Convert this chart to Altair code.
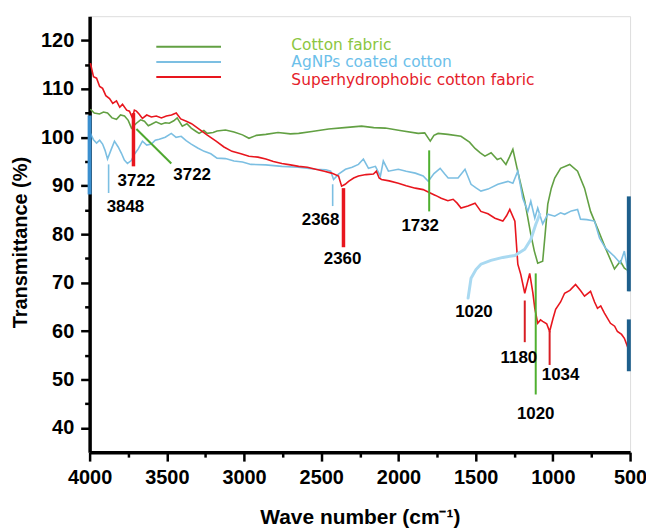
import altair as alt
import pandas as pd

# ---------------- data ----------------
series_names = ["Cotton fabric", "AgNPs coated cotton", "Superhydrophobic cotton fabric"]

cotton_wn = [3995, 3970, 3936, 3910, 3884, 3855, 3826, 3800, 3774, 3750, 3729, 3697, 3670, 3645,
             3620, 3600, 3570, 3536, 3510, 3484, 3455, 3433, 3400, 3370, 3342, 3310, 3291, 3260,
             3239, 3200, 3175, 3120, 3065, 3010, 2968, 2920, 2859, 2780, 2700, 2646, 2560, 2452,
             2350, 2239, 2160, 2085, 1990, 1872, 1830, 1794, 1770, 1743, 1680, 1595, 1540, 1504,
             1470, 1440, 1400, 1360, 1337, 1304, 1280, 1259, 1227, 1182, 1143, 1120, 1098, 1066,
             1050, 1033, 1010, 988, 950, 891, 840, 795, 756, 711, 659, 601, 563, 537, 505]
cotton_t = [105.8, 105.0, 104.8, 105.2, 105.0, 104.0, 103.7, 104.6, 104.4, 103.5, 101.9, 102.9, 103.6, 103.3,
            102.4, 102.7, 103.2, 102.7, 103.0, 102.9, 103.4, 104.0, 102.3, 102.8, 101.9, 101.2, 100.8, 101.4,
            100.8, 101.0, 101.3, 101.5, 101.1, 100.5, 99.8, 100.4, 100.6, 101.0, 100.7, 100.8, 101.2, 101.7,
            102.0, 102.3, 102.0, 101.9, 101.4, 100.8, 100.9, 99.2, 100.4, 100.8, 100.6, 100.2, 99.0, 97.7,
            96.8, 96.1, 96.8, 95.4, 95.7, 94.4, 96.0, 97.5, 92.9, 86.8, 80.0, 76.5, 74.0, 74.4,
            80.0, 86.2, 89.5, 91.6, 93.6, 94.4, 93.0, 89.5, 84.7, 81.2, 77.1, 72.8, 74.4, 73.0, 72.3]

agnp_wn = [3995, 3975, 3955, 3935, 3916, 3900, 3884, 3860, 3839, 3815, 3794, 3775, 3755, 3730,
           3710, 3685, 3658, 3630, 3600, 3575, 3549, 3510, 3471, 3440, 3407, 3375, 3342, 3300,
           3258, 3215, 3175, 3120, 3065, 3010, 2955, 2860, 2755, 2650, 2536, 2470, 2439, 2420,
           2388, 2343, 2300, 2259, 2227, 2194, 2149, 2117, 2098, 2065, 2001, 1950, 1891, 1840,
           1807, 1770, 1730, 1700, 1678, 1614, 1569, 1530, 1500, 1466, 1420, 1356, 1291, 1259,
           1227, 1195, 1162, 1143, 1117, 1098, 1066, 1033, 988, 950, 924, 880, 840, 821,
           780, 730, 698, 659, 601, 563, 537, 518, 505]
agnp_t = [100.8, 99.5, 98.8, 99.4, 98.6, 97.3, 95.5, 97.5, 99.2, 98.0, 96.7, 95.3, 94.6, 95.2,
          96.5, 97.6, 99.2, 98.4, 98.6, 99.4, 99.6, 100.0, 100.8, 100.0, 100.2, 99.3, 98.6, 97.8,
          97.1, 96.6, 95.7, 95.6, 95.1, 94.9, 94.4, 94.3, 94.0, 93.8, 93.4, 93.3, 93.0, 91.3,
          92.4, 93.4, 93.8, 94.4, 95.5, 93.6, 94.0, 92.0, 95.1, 93.0, 93.4, 93.0, 92.6, 92.0,
          90.9, 92.5, 93.6, 92.4, 91.6, 91.6, 93.4, 90.3, 89.6, 88.9, 89.3, 90.3, 90.9, 90.5,
          93.0, 87.4, 84.7, 86.8, 83.3, 85.4, 82.1, 84.1, 83.7, 84.4, 84.1, 84.8, 85.1, 83.1,
          83.0, 82.7, 79.2, 77.1, 75.4, 74.0, 76.5, 73.0, 68.2]

shcf_wn = [3995, 3975, 3955, 3935, 3916, 3895, 3871, 3850, 3826, 3805, 3787, 3760, 3742, 3723,
           3710, 3697, 3680, 3658, 3630, 3600, 3568, 3535, 3503, 3470, 3439, 3410, 3374, 3340,
           3291, 3240, 3181, 3130, 3078, 3020, 2968, 2910, 2859, 2810, 2755, 2700, 2646, 2590,
           2536, 2480, 2433, 2388, 2368, 2345, 2323, 2290, 2259, 2210, 2162, 2143, 2125, 2110,
           2060, 2001, 1950, 1891, 1840, 1794, 1760, 1723, 1680, 1646, 1620, 1595, 1550, 1504,
           1466, 1420, 1375, 1324, 1300, 1279, 1246, 1227, 1208, 1182, 1165, 1150, 1130, 1117,
           1098, 1080, 1066, 1040, 1021, 1000, 982, 950, 924, 890, 853, 820, 795, 756,
           730, 711, 690, 666, 627, 600, 582, 555, 537, 505]
shcf_t = [115.3, 112.5, 112.2, 110.5, 110.1, 108.6, 108.0, 107.0, 107.5, 106.2, 106.8, 105.6, 105.4, 104.0,
          105.6, 105.4, 104.8, 103.9, 104.6, 104.2, 104.4, 104.0, 104.4, 104.6, 105.0, 103.8, 103.3, 102.8,
          101.7, 100.5, 99.2, 98.0, 97.1, 96.6, 96.1, 95.9, 95.5, 95.0, 94.6, 94.3, 94.0, 93.8,
          93.4, 93.0, 92.6, 92.0, 89.9, 90.3, 90.9, 91.6, 92.0, 92.3, 92.4, 93.0, 91.6, 91.3,
          91.0, 90.5, 90.0, 89.5, 89.2, 88.5, 88.0, 87.4, 86.9, 87.2, 86.4, 85.4, 85.8, 86.4,
          84.7, 84.2, 83.3, 82.7, 83.8, 85.1, 82.7, 73.8, 71.7, 67.8, 70.0, 71.9, 68.0, 64.7,
          61.6, 62.3, 62.0, 61.5, 59.9, 62.5, 64.5, 66.0, 67.8, 68.4, 69.6, 68.3, 67.2, 68.2,
          66.0, 64.7, 65.2, 63.7, 61.6, 61.0, 59.9, 59.3, 58.5, 55.8]

# peak marker lines (wave-number position, top and bottom of the marker)
blue_mark_wn = [3877, 2426]
blue_mark_top = [94.4, 90.3]
blue_mark_bot = [88.5, 85.8]
red_thick_wn = [3716, 2356]
red_thick_top = [105.0, 89.5]
red_thick_bot = [94.0, 77.3]
red_thin_wn = [1182, 1021]
red_thin_top = [66.3, 60.0]
red_thin_bot = [57.7, 53.0]
green_mark_wn = [1801, 1111]
green_mark_top = [97.3, 71.9]
green_mark_bot = [84.7, 46.9]
green_diag_wn = [3697]
green_diag_wn2 = [3471]
green_diag_t = [101.7]
green_diag_t2 = [94.6]

# curved pointer for the AgNPs 1020 band
arc_wn = [1549, 1530, 1498, 1466, 1401, 1324, 1246, 1182, 1143, 1111, 1085]
arc_t = [66.8, 70.9, 72.7, 73.8, 74.6, 75.2, 75.6, 76.9, 78.9, 82.0, 84.1]

# edge artefacts of the AgNPs trace
edge_left_wn = [4000]
edge_left_top = [104.5]
edge_left_bot = [88.2]
edge_right_wn = [508, 508]
edge_right_top = [87.8, 62.4]
edge_right_bot = [68.2, 51.7]

# peak labels
label_text = ["3848", "3722", "3722", "2368", "2360", "1732", "1020", "1180", "1020", "1034"]
label_wn = [3768, 3697, 3336, 2504, 2362, 1859, 1511, 1220, 1111, 950]
label_t = [85.5, 90.9, 92.2, 82.9, 74.8, 81.6, 63.9, 54.4, 42.8, 50.9]

x_ticks = list(range(500, 4001, 250))
y_ticks = list(range(40, 121, 5))

# ---------------- styling ----------------
C_GREEN = "#62a043"
C_BLUE = "#7cbfe2"
C_RED = "#e8161e"
TXT_GREEN = "#8cc63f"
TXT_BLUE = "#6cc0ea"
TXT_RED = "#e5202a"
FONT = "Liberation Sans"

curves = pd.concat([
    pd.DataFrame({"wn": cotton_wn, "T": cotton_t, "series": series_names[0]}),
    pd.DataFrame({"wn": agnp_wn, "T": agnp_t, "series": series_names[1]}),
    pd.DataFrame({"wn": shcf_wn, "T": shcf_t, "series": series_names[2]}),
], ignore_index=True)
curves["i"] = range(len(curves))

xscale = alt.Scale(domain=[500, 4000], reverse=True, nice=False, zero=False)
yscale = alt.Scale(domain=[35, 125], nice=False, zero=False)

common_axis = dict(
    labelFont=FONT, labelFontSize=20, labelFontWeight="bold", labelColor="black",
    labelPadding=7, labelFlush=False, labelOverlap=False,
    tickColor="black", tickWidth=2.5, domainColor="black", domainWidth=3.5, grid=False,
    titleFont=FONT, titleFontWeight="bold", titleColor="black", format="d",
)
xaxis = alt.Axis(
    values=x_ticks,
    labelExpr="datum.value % 500 === 0 ? datum.label : ''",
    tickSize={"condition": {"test": "datum.value % 500 === 0", "value": 9}, "value": 5},
    titleFontSize=21, titleY=72, titleBaseline="alphabetic",
    **common_axis,
)
yaxis = alt.Axis(
    values=y_ticks,
    labelExpr="datum.value % 10 === 0 ? datum.label : ''",
    tickSize={"condition": {"test": "datum.value % 10 === 0", "value": 9}, "value": 5},
    titleFontSize=20, titleX=-63, titleY=227, titleAngle=270, titleAlign="center",
    titleBaseline="alphabetic",
    **common_axis,
)

X = alt.X("wn:Q", scale=xscale, axis=xaxis, title="Wave number (cm⁻¹)")
Y = alt.Y("T:Q", scale=yscale, axis=yaxis, title="Transmittance (%)")

lines = alt.Chart(curves).mark_line(strokeWidth=1.6).encode(
    x=X, y=Y,
    color=alt.Color("series:N", scale=alt.Scale(domain=series_names, range=[C_GREEN, C_BLUE, C_RED]), legend=None),
    order=alt.Order("i:Q"),
)


def vrules(wn, top, bot, color, width):
    df = pd.DataFrame({"wn": wn, "T": top, "T2": bot})
    return alt.Chart(df).mark_rule(color=color, strokeWidth=width).encode(
        x=X, y=Y, y2=alt.Y2("T2:Q"))


rules = [
    vrules(blue_mark_wn, blue_mark_top, blue_mark_bot, C_BLUE, 1.6),
    vrules(red_thick_wn, red_thick_top, red_thick_bot, C_RED, 3.5),
    vrules(red_thin_wn, red_thin_top, red_thin_bot, "#d81e24", 2),
    vrules(green_mark_wn, green_mark_top, green_mark_bot, "#4fb030", 2),
    vrules(edge_left_wn, edge_left_top, edge_left_bot, "#3a8fcf", 4),
    vrules(edge_right_wn, edge_right_top, edge_right_bot, "#1d5f8c", 4),
]

diag = alt.Chart(pd.DataFrame({"wn": green_diag_wn, "wn2": green_diag_wn2, "T": green_diag_t, "T2": green_diag_t2})
                 ).mark_rule(color="#4fa830", strokeWidth=2).encode(
    x=X, x2=alt.X2("wn2:Q"), y=Y, y2=alt.Y2("T2:Q"))

arc = alt.Chart(pd.DataFrame({"wn": arc_wn, "T": arc_t, "i": range(len(arc_wn))})).mark_line(
    color="#a9d9f1", strokeWidth=3, strokeCap="round").encode(x=X, y=Y, order=alt.Order("i:Q"))

labels = alt.Chart(pd.DataFrame({"wn": label_wn, "T": label_t, "txt": label_text})).mark_text(
    font=FONT, fontSize=17, fontWeight="bold", color="black", align="center", baseline="middle"
).encode(x=X, y=Y, text="txt:N")

# legend drawn as in the reference (lines, then coloured labels)
legend_layers = []
for ly, ty, lc, tc, name in [(30.7, 34, C_GREEN, TXT_GREEN, series_names[0]),
                             (46, 50.6, C_BLUE, TXT_BLUE, series_names[1]),
                             (61, 69.3, C_RED, TXT_RED, series_names[2])]:
    legend_layers.append(alt.Chart().mark_rule(color=lc, strokeWidth=2).encode(
        x=alt.value(67), x2=alt.value(132), y=alt.value(ly)))
    legend_layers.append(alt.Chart().mark_text(
        text=name, font="DejaVu Sans", fontSize=15.5, color=tc, align="left", baseline="alphabetic"
    ).encode(x=alt.value(202.7), y=alt.value(ty)))

chart = alt.layer(lines, arc, *rules, diag, labels, *legend_layers).properties(
    width=543, height=438,
    autosize=alt.AutoSizeParams(type="none"),
    padding={"left": 82, "top": 7, "right": 16, "bottom": 76},
).configure_view(stroke="black", strokeWidth=3).configure(background="white")

chart.save("out.html", embed_options={"renderer": "svg", "actions": False})
